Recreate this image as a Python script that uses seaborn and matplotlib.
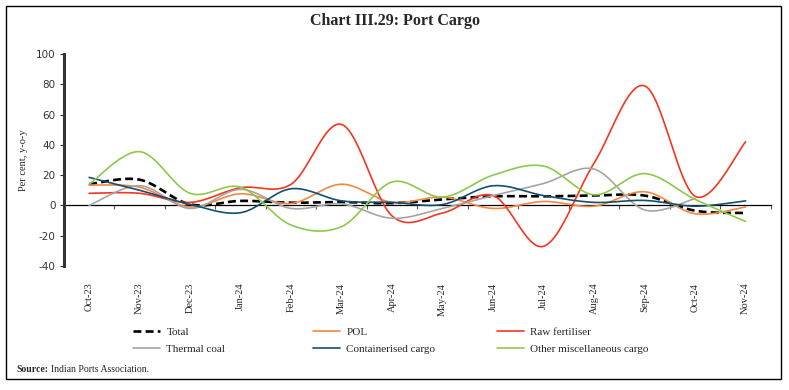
import numpy as np
import pandas as pd
import seaborn as sns
import matplotlib.pyplot as plt
from matplotlib.patches import Rectangle
from matplotlib.lines import Line2D

# Data (per cent, y-o-y)
months = ['Oct-23', 'Nov-23', 'Dec-23', 'Jan-24', 'Feb-24', 'Mar-24', 'Apr-24',
          'May-24', 'Jun-24', 'Jul-24', 'Aug-24', 'Sep-24', 'Oct-24', 'Nov-24']
total = [14, 17, 0.7, 3, 1.8, 2.2, 1.5, 4, 6, 6, 6.5, 6.5, -3.5, -5]
pol = [13.5, 12, -1, 7.7, 1.3, 14, 2, 5.5, -2, 2.6, -0.5, 9, -5.5, -1]
raw_fertiliser = [8, 8, 2, 11.7, 14, 53.5, -7, -5, 6.5, -27, 28, 79, 6, 42]
thermal_coal = [0, 13, -2, 10.6, -2, 1, -8.5, -2, 6.5, 14.5, 24, -3, 4.6, np.nan]
containerised = [18.5, 10, 0.7, -4.8, 11, 3, 2, 0.6, 13, 6.5, 2, 3.3, -0.5, 3]
other_misc = [14, 35.5, 8, 12, -13, -14, 15.5, 5.5, 20, 26, 7, 21, 4, -10.6]

series = [
    ("Total", total, "black", (0, (3, 1.6)), 1.9),
    ("POL", pol, "#F58840", "-", 1.2),
    ("Raw fertiliser", raw_fertiliser, "#F5351E", "-", 1.2),
    ("Thermal coal", thermal_coal, "#A5A5A5", "-", 1.2),
    ("Containerised cargo", containerised, "#154F6E", "-", 1.2),
    ("Other miscellaneous cargo", other_misc, "#8DC94A", "-", 1.2),
]


def smooth(y, n=25):
    # Excel-style smoothed line (Catmull-Rom) for display only
    y = np.asarray(y, dtype=float)
    x = np.arange(len(y), dtype=float)
    ok = ~np.isnan(y)
    xs, ys = x[ok], y[ok]
    px = np.concatenate([[xs[0]], xs, [xs[-1]]])
    py = np.concatenate([[ys[0]], ys, [ys[-1]]])
    outx, outy = [], []
    t = np.linspace(0, 1, n)
    for i in range(1, len(px) - 2):
        for p, out in ((px, outx), (py, outy)):
            p0, p1, p2, p3 = p[i - 1], p[i], p[i + 1], p[i + 2]
            out.extend(0.5 * ((2 * p1) + (-p0 + p2) * t
                              + (2 * p0 - 5 * p1 + 4 * p2 - p3) * t ** 2
                              + (-p0 + 3 * p1 - 3 * p2 + p3) * t ** 3))
    return np.array(outx), np.array(outy)


sns.set_style("white")
plt.rcParams['font.family'] = ['Liberation Serif', 'DejaVu Serif']

fig = plt.figure(figsize=(7.89, 3.90), dpi=100)
ax = fig.add_axes([0.081, 0.318, 0.896, 0.5435])

handles = {}
for name, vals, color, ls, lw in series:
    sx, sy = smooth(vals)
    sns.lineplot(x=sx, y=sy, ax=ax, color=color, linestyle=ls, linewidth=lw,
                 sort=False, errorbar=None)
    handles[name] = Line2D([], [], color=color, linestyle=ls, linewidth=lw)

ax.set_xlim(-0.5, len(months) - 0.5)
ax.set_ylim(-40, 100)
ax.set_yticks(range(-40, 101, 20))
ax.set_yticklabels([str(v) for v in range(-40, 101, 20)],
                   fontfamily='DejaVu Sans', fontsize=7.5, color='#333333')
ax.set_xticks(range(len(months)))
ax.set_xticklabels(months, rotation=90, fontsize=7.5, va='top')
ax.tick_params(axis='x', length=0, pad=12)
ax.tick_params(axis='y', length=3, width=0.8, direction='out', left=True, pad=3)

for s in ['top', 'right', 'bottom']:
    ax.spines[s].set_visible(False)
ax.spines['left'].set_linewidth(2.2)
ax.spines['left'].set_color('#333333')
ax.set_ylabel("Per cent, y-o-y", fontsize=7.5, labelpad=6)
ax.set_xlabel("")

# zero line with tick marks between categories
zero = ax.secondary_xaxis(40 / 140)
zero.set_xticks(np.arange(-0.5, len(months), 1.0))
zero.set_xticklabels([])
zero.tick_params(length=3, width=0.8, direction='out', color='#555555')
zero.spines['bottom'].set_linewidth(0.9)
zero.spines['bottom'].set_color('black')

fig.text(0.5, 1 - 21 / 390, "Chart III.29: Port Cargo", ha='center', va='center',
         fontsize=11.5, fontweight='bold')

cols = [(133, ["Total", "Thermal coal"]),
        (313, ["POL", "Containerised cargo"]),
        (497, ["Raw fertiliser", "Other miscellaneous cargo"])]
for x0, names in cols:
    fig.legend([handles[n] for n in names], names, loc='upper left',
               bbox_to_anchor=(x0 / 789, 1 - 327 / 390), frameon=False,
               fontsize=8, handlelength=2.4, handletextpad=0.6,
               borderpad=0, borderaxespad=0, labelspacing=0.65)

fig.text(16 / 789, 1 - 369 / 390, "Source:", fontsize=7, fontweight='bold', va='center')
fig.text(51 / 789, 1 - 369 / 390, "Indian Ports Association.", fontsize=7, va='center')

fig.patches.append(Rectangle((6 / 789, 11 / 390), 775 / 789, 373 / 390,
                             transform=fig.transFigure, fill=False,
                             edgecolor='black', linewidth=1.0))

fig.savefig("out.png", dpi=100)
